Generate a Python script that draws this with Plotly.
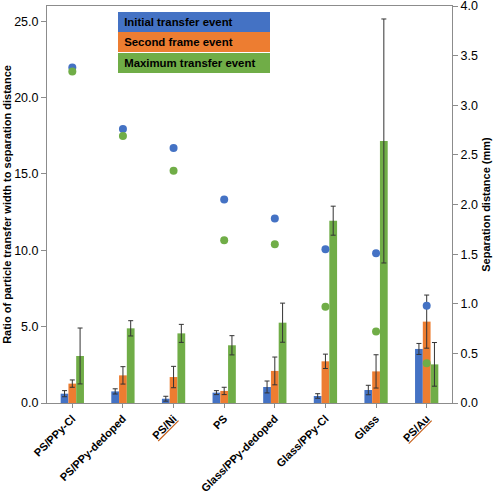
import plotly.graph_objects as go
from plotly.subplots import make_subplots

categories = ["PS/PPy-Cl", "PS/PPy-dedoped", "PS/Ni", "PS", "Glass/PPy-dedoped",
              "Glass/PPy-Cl", "Glass", "PS/Au"]
tick_labels = ["PS/PPy-Cl", "PS/PPy-dedoped",
               "<span style='color:#C55A11'><u><span style='color:black'>PS/Ni</span></u></span>",
               "PS", "Glass/PPy-dedoped", "Glass/PPy-Cl", "Glass",
               "<span style='color:#C55A11'><u><span style='color:black'>PS/Au</span></u></span>"]

# Ratio of particle transfer width to separation distance (left axis)
initial_ratio = [0.61, 0.76, 0.28, 0.68, 1.05, 0.46, 0.85, 3.54]
initial_err = [0.20, 0.17, 0.16, 0.13, 0.39, 0.15, 0.31, 0.36]
second_ratio = [1.27, 1.81, 1.70, 0.79, 2.10, 2.73, 2.07, 5.33]
second_err = [0.24, 0.57, 0.70, 0.24, 0.91, 0.47, 1.09, 1.74]
maximum_ratio = [3.08, 4.89, 4.56, 3.78, 5.26, 11.94, 17.16, 2.53]
maximum_err = [1.83, 0.50, 0.59, 0.63, 1.28, 0.95, 7.99, 1.43]

# Separation distance in mm (right axis)
initial_sep = [3.38, 2.76, 2.57, 2.05, 1.86, 1.55, 1.51, 0.98]
maximum_sep = [3.34, 2.69, 2.34, 1.64, 1.60, 0.97, 0.72, 0.40]

legend_names = ["Initial transfer event", "Second frame event", "Maximum transfer event"]

BLUE = "#4472C4"
ORANGE = "#ED7D31"
GREEN = "#70AD47"
FONT = "Arial, Liberation Sans, sans-serif"

fig = make_subplots(specs=[[{"secondary_y": True}]])

for vals, errs, col, name in [(initial_ratio, initial_err, BLUE, legend_names[0]),
                              (second_ratio, second_err, ORANGE, legend_names[1]),
                              (maximum_ratio, maximum_err, GREEN, legend_names[2])]:
    fig.add_trace(go.Bar(x=categories, y=vals, name=name, marker_color=col,
                         marker_line_width=0,
                         error_y=dict(type="data", array=errs, color="#333333",
                                      thickness=1, width=2.5),
                         showlegend=False), secondary_y=False)

fig.add_trace(go.Scatter(x=categories, y=initial_sep, mode="markers",
                         marker=dict(color=BLUE, size=8), showlegend=False),
              secondary_y=True)
fig.add_trace(go.Scatter(x=categories, y=maximum_sep, mode="markers",
                         marker=dict(color=GREEN, size=8), showlegend=False),
              secondary_y=True)

fig.update_layout(
    width=496, height=493,
    margin=dict(l=47, r=44, t=6, b=90),
    paper_bgcolor="white", plot_bgcolor="white",
    barmode="group", bargap=0.54, bargroupgap=0.0,
    font=dict(family=FONT, color="black"),
    showlegend=False,
)

fig.update_xaxes(
    domain=[0, 1],
    tickmode="array", tickvals=categories, ticktext=["<b>%s</b>" % t for t in tick_labels],
    tickangle=-45, tickfont=dict(size=11, family=FONT, color="black"),
    showline=True, linecolor="#8c8c8c", linewidth=1, mirror=True,
    ticks="outside", ticklen=4, tickcolor="#8c8c8c", showgrid=False,
    automargin=False,
)
fig.update_yaxes(
    range=[0, 26], tickvals=[0, 5, 10, 15, 20, 25], tickformat=".1f",
    tickfont=dict(size=12.5, family=FONT, color="black"),
    showline=True, linecolor="#8c8c8c", linewidth=1,
    ticks="outside", ticklen=5, tickcolor="#8c8c8c", showgrid=False, zeroline=False,
    title=dict(text="<b>Ratio of particle transfer width to separation distance</b>",
               font=dict(size=11, family=FONT, color="black"), standoff=0),
    automargin=False, ticklabeloverflow="allow",
    secondary_y=False,
)
fig.update_yaxes(
    range=[0, 4], dtick=0.5, tickformat=".1f",
    tickfont=dict(size=12.5, family=FONT, color="black"),
    showline=True, linecolor="#8c8c8c", linewidth=1,
    ticks="outside", ticklen=5, tickcolor="#8c8c8c", showgrid=False, zeroline=False,
    title=dict(text="<b>Separation distance (mm)</b>",
               font=dict(size=11, family=FONT, color="black"), standoff=5),
    automargin=False, ticklabeloverflow="allow",
    secondary_y=True,
)

# Custom legend: coloured boxes with text
for i, (name, col) in enumerate(zip(legend_names, [BLUE, ORANGE, GREEN])):
    fig.add_annotation(
        xref="paper", yref="paper", x=0.175, y=0.96 - i * 0.0515,
        xanchor="left", yanchor="middle",
        text="&nbsp;<b>%s</b>" % name, showarrow=False, align="left",
        bgcolor=col, width=146, height=14.4, borderpad=3, borderwidth=0,
        font=dict(size=11.4, family=FONT, color="black"),
    )

fig.write_html("out.html", config={"displayModeBar": False},
               post_script="document.body.style.margin='0';")
